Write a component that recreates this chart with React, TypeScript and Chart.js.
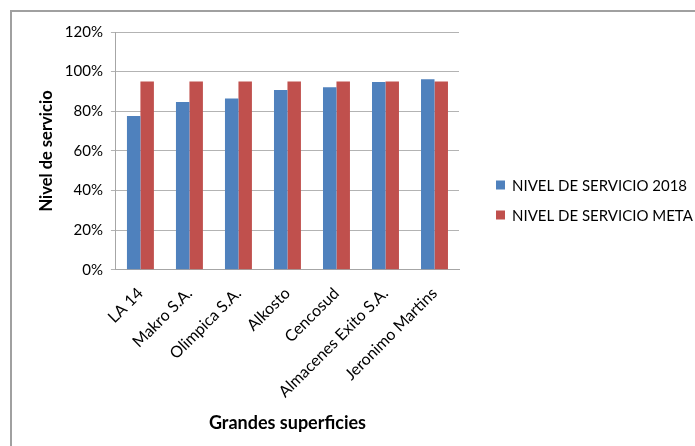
import React, { useEffect, useRef } from "react";
import { Chart, registerables } from "chart.js";

Chart.register(...registerables);

const categories = [
  "LA 14",
  "Makro S.A.",
  "Olimpica S.A.",
  "Alkosto",
  "Cencosud",
  "Almacenes Exito S.A.",
  "Jeronimo Martins",
];
const nivel2018 = [0.776, 0.847, 0.864, 0.908, 0.921, 0.948, 0.962];
const nivelMeta = [0.95, 0.95, 0.95, 0.95, 0.95, 0.95, 0.95];
const yTicks = [0, 0.2, 0.4, 0.6, 0.8, 1.0, 1.2];

const FONT = "Lato, 'Open Sans', sans-serif";

const sideLegend = {
  id: "sideLegend",
  afterDraw(chart: any, _args: any, opts: any) {
    const ctx = chart.ctx;
    const area = chart.chartArea;
    const x = area.right + opts.offsetX;
    ctx.save();
    ctx.font = `${opts.fontSize}px ${FONT}`;
    ctx.textBaseline = "middle";
    ctx.textAlign = "left";
    chart.data.datasets.forEach((ds: any, i: number) => {
      const cy = opts.firstY + i * opts.gap;
      ctx.fillStyle = ds.backgroundColor;
      ctx.fillRect(x, cy - opts.box / 2, opts.box, opts.box);
      ctx.fillStyle = "#000";
      ctx.fillText(ds.label, x + opts.box + opts.textGap, cy + 1);
    });
    ctx.restore();
  },
};

export default function App() {
  const ref = useRef<HTMLCanvasElement | null>(null);

  useEffect(() => {
    if (!ref.current) return;
    const chart = new Chart(ref.current, {
      type: "bar",
      data: {
        labels: categories,
        datasets: [
          {
            label: "NIVEL DE SERVICIO 2018",
            data: nivel2018,
            backgroundColor: "#4F81BD",
            categoryPercentage: 0.55,
            barPercentage: 1,
          },
          {
            label: "NIVEL DE SERVICIO META",
            data: nivelMeta,
            backgroundColor: "#C0504D",
            categoryPercentage: 0.55,
            barPercentage: 1,
          },
        ],
      },
      plugins: [sideLegend],
      options: {
        animation: false,
        responsive: false,
        maintainAspectRatio: false,
        layout: { padding: { top: 32, left: 37, right: 236, bottom: 12 } },
        plugins: {
          tooltip: { enabled: false },
          legend: { display: false },
          sideLegend: {
            offsetX: 37,
            firstY: 185,
            gap: 30,
            box: 9,
            textGap: 7,
            fontSize: 15,
          },
        } as any,
        scales: {
          x: {
            grid: { display: false },
            border: { display: true, color: "#a6a6a6", width: 1 },
            ticks: {
              color: "#000",
              font: { family: FONT, size: 16 },
              minRotation: 45,
              maxRotation: 45,
              autoSkip: false,
              padding: 6,
            },
            title: {
              display: true,
              text: "Grandes superficies",
              color: "#000",
              font: { family: FONT, size: 18, weight: "bold" },
              padding: { top: 5, bottom: 0 },
            },
          },
          y: {
            min: 0,
            max: 1.2,
            afterBuildTicks: (axis: any) => {
              axis.ticks = yTicks.map((v) => ({ value: v }));
            },
            grid: { color: "#b3b3b3", tickLength: 5, lineWidth: 1 },
            border: { display: true, color: "#a6a6a6", width: 1 },
            ticks: {
              color: "#000",
              font: { family: FONT, size: 15 },
              padding: 8,
              callback: (v: any) => Math.round(Number(v) * 100) + "%",
            },
            title: {
              display: true,
              text: "Nivel de servicio",
              color: "#000",
              font: { family: FONT, size: 16.5, weight: "bold" },
              padding: { top: 0, bottom: 0 },
            },
          },
        },
      },
    });
    return () => chart.destroy();
  }, []);

  return (
    <div
      style={{
        position: "fixed",
        left: 0,
        top: 0,
        width: 695,
        height: 446,
        overflow: "hidden",
        background: "#fff",
      }}
    >
      <div
        style={{
          position: "absolute",
          left: 10,
          top: 10,
          width: 720,
          height: 470,
          border: "2px solid #a0a0a0",
          boxSizing: "border-box",
        }}
      />
      <canvas
        ref={ref}
        width={695}
        height={446}
        style={{ position: "absolute", left: 0, top: 0, width: 695, height: 446 }}
      />
    </div>
  );
}
